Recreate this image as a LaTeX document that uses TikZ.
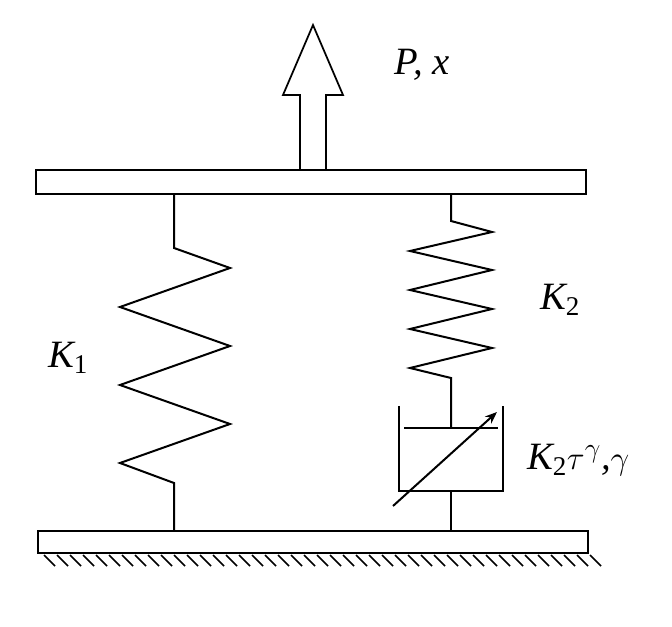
\documentclass[tikz,border=0pt]{standalone}
\usepackage{fontspec}
\setmainfont{Liberation Serif}
\usetikzlibrary{arrows.meta}
\begin{document}
\begin{tikzpicture}[x=0.75pt,y=-0.75pt,line width=1.5pt,line join=miter,
  lbl/.style={font=\fontsize{29}{33}\selectfont\itshape,inner sep=0pt}]
\useasboundingbox (0,0) rectangle (672,627);
\draw[line width=1.3pt] (36,170) rectangle (586,194);
\draw[line width=1.3pt] (38,531) rectangle (588,553);
\foreach \i in {0,...,42} {\draw[line width=1.1pt] (44+13*\i,555) -- (55+13*\i,566);}
% arrow
\draw[line width=1.3pt] (300,170) -- (300,95) -- (283,95) -- (313,25) -- (343,95) -- (326,95) -- (326,170);
\node[lbl] (px) at (422,65) {P, x};
% left spring
\draw (174,194) -- (174,248) -- (230,268) -- (120,307) -- (230,346) -- (120,385) -- (230,424) -- (120,463) -- (174,483) -- (174,531);
\node[lbl] (k1) at (68,358) {K\textsubscript{\upshape 1}};
% right spring
\draw (451,194) -- (451,221) -- (492,232) -- (410,251) -- (492,270) -- (410,290) -- (492,309) -- (410,329) -- (492,348) -- (410,368) -- (451,378) -- (451,428);
\draw (404,428) -- (498,428);
\draw (399,406) -- (399,491) -- (503,491) -- (503,406);
\draw (451,491) -- (451,531);
\draw[-{Stealth[length=9pt,width=7pt]}] (393,506) -- (497,412);
\node[lbl] (k2) at (560,300) {K\textsubscript{\upshape 2}};
\node[lbl,anchor=west] (k2t) at (526,460) {K\textsubscript{\upshape 2}$\tau^{\gamma}$,$\gamma$};
\end{tikzpicture}
\end{document}
